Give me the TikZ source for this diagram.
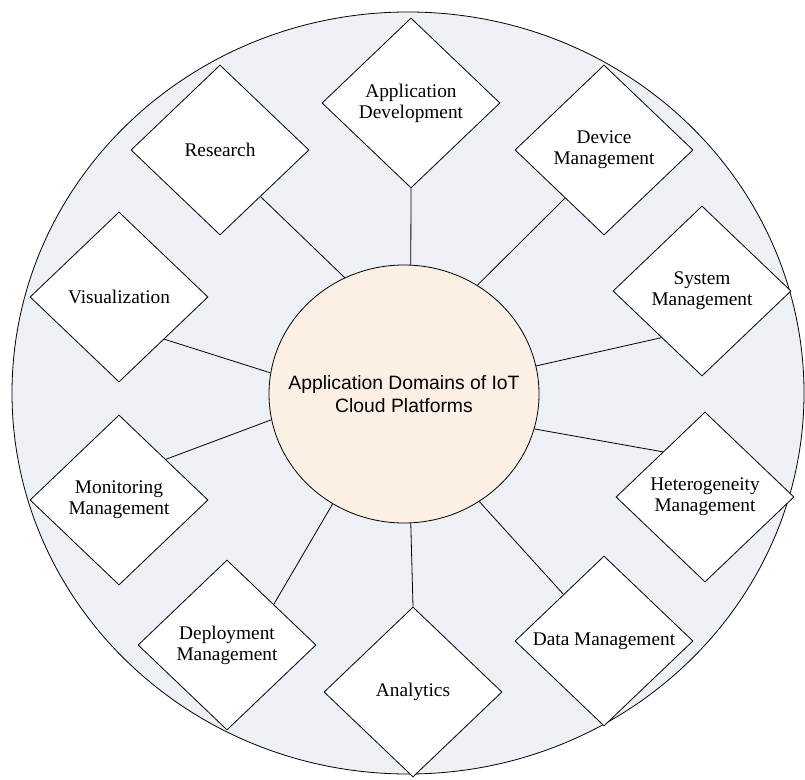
\documentclass[tikz,border=0pt]{standalone}
\usepackage{fontspec}
\setmainfont{Liberation Serif}
\newfontfamily\arialfont{Liberation Sans}
\usetikzlibrary{shapes.geometric}
\definecolor{bgcol}{RGB}{237,240,245}
\definecolor{hubcol}{RGB}{252,239,228}
\begin{document}
\begin{tikzpicture}[x=0.75pt,y=-0.75pt,
  domainbox/.style={diamond, draw=black, line width=0.6pt, fill=white,
    minimum width=133.5pt, minimum height=127.5pt, inner sep=0pt,
    align=center, font=\fontsize{14.5}{15.75}\selectfont},
  link/.style={draw=black, line width=0.6pt}]
\useasboundingbox (0,0) rectangle (805,780);
\node[ellipse, draw=black, line width=0.6pt, fill=bgcol, minimum width=594pt, minimum height=571.5pt, inner sep=0pt] (bg) at (408,393) {};
\node[ellipse, draw=black, line width=0.6pt, fill=hubcol, minimum width=202.5pt, minimum height=193.5pt, inner sep=0pt] (hub) at (404,394) {};
\node[align=center, font=\arialfont\fontsize{14.5}{17.25}\selectfont] (hublabel) at (hub.center) {Application Domains of IoT\\Cloud Platforms};

\node[domainbox] (ad)  at (411,103) {Application\\Development};
\node[domainbox] (res) at (220,150) {Research};
\node[domainbox] (dev) at (604,150) {Device\\Management};
\node[domainbox] (sys) at (702,291) {System\\Management};
\node[domainbox] (vis) at (119,297) {Visualization};
\node[domainbox] (mon) at (119,500) {Monitoring\\Management};
\node[domainbox] (het) at (705,497) {Heterogeneity\\Management};
\node[domainbox] (dat) at (604,641) {Data Management};
\node[domainbox] (ana) at (413,692) {Analytics};
\node[domainbox] (dep) at (227,645) {Deployment\\Management};

\draw[link] (hub.87) -- (ad.south);
\draw[link] (hub.117.7) -- (res.311.8);
\draw[link] (hub.56.8) -- (dev.231.5);
\draw[link] (hub.12.7) -- (sys.229);
\draw[link] (hub.171) -- (vis.317.5);
\draw[link] (hub.191) -- (mon.41);
\draw[link] (hub.345.3) -- (het.133);
\draw[link] (hub.305.1) -- (dat.131);
\draw[link] (hub.273.5) -- (ana.north);
\draw[link] (hub.237.3) -- (dep.41.8);
\end{tikzpicture}
\end{document}
